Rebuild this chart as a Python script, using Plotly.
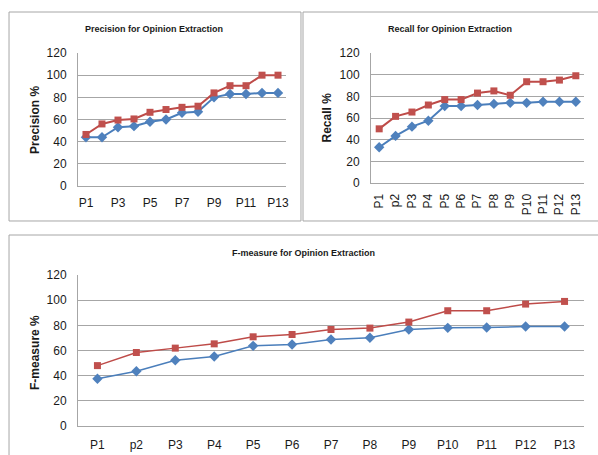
import plotly.graph_objects as go

# ---------------- data ----------------
points_13 = ["P1", "P2", "P3", "P4", "P5", "P6", "P7", "P8", "P9", "P10", "P11", "P12", "P13"]
precision_ticks = ["P1", "P3", "P5", "P7", "P9", "P11", "P13"]
precision_blue = [44, 44, 53, 54, 58, 60, 66, 67, 80, 83, 83, 84, 84]
precision_red = [46.5, 56, 59.5, 60.5, 66.5, 69, 71, 72, 84, 90.5, 90.5, 100, 100]

recall_labels = ["P1", "p2", "P3", "P4", "P5", "P6", "P7", "P8", "P9", "P10", "P11", "P12", "P13"]
recall_blue = [33, 43.5, 52, 57.5, 71, 71, 72, 73, 74, 74, 75, 75, 75]
recall_red = [50, 61.5, 65.5, 72, 77, 77, 83, 85, 81, 93.5, 93.5, 95, 99]

fmeasure_labels = ["P1", "p2", "P3", "P4", "P5", "P6", "P7", "P8", "P9", "P10", "P11", "P12", "P13"]
fmeasure_blue = [37.5, 43.5, 52.3, 55.2, 63.7, 64.8, 68.8, 70.1, 76.7, 78, 78.3, 79.1, 79.1]
fmeasure_red = [48, 58.4, 61.9, 65.3, 70.9, 72.7, 76.7, 77.8, 82.6, 91.6, 91.6, 96.9, 99]

y_ticks = [0, 20, 40, 60, 80, 100, 120]

BLUE = "#4A7EBB"
BLUE_M = "#4F81BD"
RED = "#BE4B48"
RED_M = "#C0504D"
GRID = "#A6A6A6"
TXT = "#1a1a1a"
FONT = "Liberation Sans"

fig = go.Figure()


def add_pair(xs, blue, red, xa, ya, lw):
    fig.add_trace(go.Scatter(x=xs, y=blue, mode="lines+markers", xaxis=xa, yaxis=ya,
                             line=dict(color=BLUE, width=lw),
                             marker=dict(symbol="diamond", size=8, color=BLUE_M)))
    fig.add_trace(go.Scatter(x=xs, y=red, mode="lines+markers", xaxis=xa, yaxis=ya,
                             line=dict(color=RED, width=lw),
                             marker=dict(symbol="square", size=7, color=RED_M)))


add_pair(points_13, precision_blue, precision_red, "x", "y", 2)
add_pair(recall_labels, recall_blue, recall_red, "x2", "y2", 2)
add_pair(fmeasure_labels, fmeasure_blue, fmeasure_red, "x3", "y3", 1.5)

tickfont = dict(family=FONT, size=12, color=TXT)


def xaxis(domain, anchor, cats, tickvals, angle=0, standoff=6):
    return dict(domain=domain, anchor=anchor, type="category", categoryorder="array",
                categoryarray=cats, range=[-0.5, len(cats) - 0.5],
                tickmode="array", tickvals=tickvals, ticktext=tickvals,
                tickangle=angle, showgrid=False, showline=True, linecolor=GRID,
                linewidth=1, ticks="", tickfont=tickfont, automargin=False,
                ticklabelstandoff=standoff, zeroline=False)


def yaxis(domain, anchor):
    return dict(domain=domain, anchor=anchor, range=[0, 120], tickmode="array",
                tickvals=y_ticks, showgrid=True, gridcolor=GRID, gridwidth=1,
                showline=True, linecolor=GRID, linewidth=1, zeroline=False,
                ticks="", tickfont=tickfont, automargin=False, ticklabelstandoff=8)


fig.update_layout(
    width=598, height=455, margin=dict(l=0, r=0, t=0, b=0, pad=0),
    paper_bgcolor="white", plot_bgcolor="white", showlegend=False,
    template="none",
    xaxis=xaxis([0.1304, 0.4783], "y", points_13, precision_ticks),
    yaxis=yaxis([0.5912, 0.8835], "x"),
    xaxis2=xaxis([0.6204, 0.9766], "y2", recall_labels, recall_labels, angle=-90, standoff=5),
    yaxis2=yaxis([0.5978, 0.8835], "x2"),
    xaxis3=xaxis([0.1304, 0.9766], "y3", fmeasure_labels, fmeasure_labels, standoff=8),
    yaxis3=yaxis([0.0637, 0.3956], "x3"),
)

# chart borders
border = dict(color="#A6A6A6", width=1)
fig.add_shape(type="rect", xref="paper", yref="paper", x0=0.0151, x1=0.5033, y0=0.5143, y1=0.9736, line=border)
fig.add_shape(type="rect", xref="paper", yref="paper", x0=0.5067, x1=1.02, y0=0.5143, y1=0.9736, line=border)
fig.add_shape(type="rect", xref="paper", yref="paper", x0=0.0151, x1=1.02, y0=-0.05, y1=0.4835, line=border)

title_font = dict(family=FONT, size=9, color=TXT)
axis_title_font = dict(family=FONT, size=12, color=TXT)

for text, x, y in [("<b>Precision for Opinion Extraction</b>", 0.2575, 0.9363),
                   ("<b>Recall for Opinion Extraction</b>", 0.7525, 0.9363),
                   ("<b>F-measure for Opinion Extraction</b>", 0.5067, 0.4440)]:
    fig.add_annotation(text=text, x=x, y=y, xref="paper", yref="paper", showarrow=False,
                       xanchor="center", yanchor="middle", font=title_font)

for text, x, y in [("<b>Precision %</b>", 0.0585, 0.7363),
                   ("<b>Recall %</b>", 0.5468, 0.7418),
                   ("<b>F-measure %</b>", 0.0585, 0.2264)]:
    fig.add_annotation(text=text, x=x, y=y, xref="paper", yref="paper", showarrow=False,
                       xanchor="center", yanchor="middle", textangle=-90, font=axis_title_font)

fig.write_html("out.html", config={"displayModeBar": False},
               post_script="document.body.style.margin='0';")
